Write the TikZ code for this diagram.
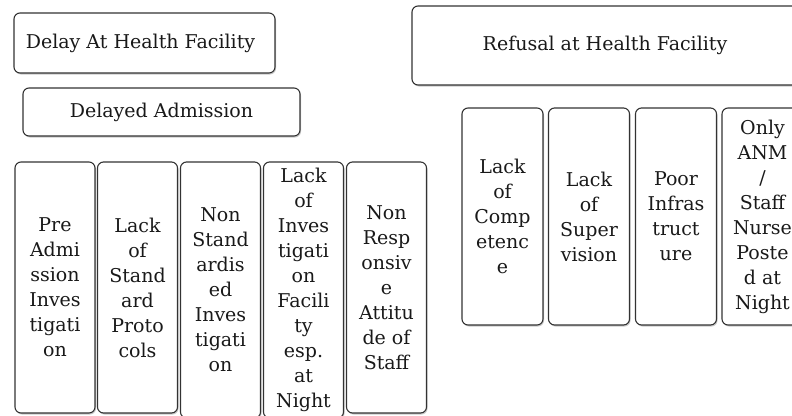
\documentclass[tikz,border=0pt]{standalone}
\usepackage{fontspec}
\setmainfont{DejaVu Serif}
\usetikzlibrary{shadows}
\tikzset{
  causebox/.style={draw=black!80, line width=1.1pt, rounded corners=6pt, fill=white,
    drop shadow={shadow xshift=1pt, shadow yshift=-1.5pt, opacity=0.35, fill=black!60},
    align=center, text=black!90, inner sep=0pt, font=\fontsize{19}{25}\selectfont},
  colbox/.style={causebox, minimum width=80pt, minimum height=251pt},
  rcolbox/.style={causebox, minimum width=81pt, minimum height=217pt}
}
\begin{document}
\begin{tikzpicture}[x=1pt, y=-1pt]
  \useasboundingbox (0,0) rectangle (792,415);
  \clip (0,0) rectangle (792,415);

  % Delay part
  \node[causebox, minimum width=261pt, minimum height=60pt] (delay) at (144.5,43) {Delay At Health Facility\hspace*{8pt}};
  \node[causebox, minimum width=277pt, minimum height=48pt] (admit) at (161.5,112) {Delayed Admission};

  \node[colbox] (c1) at (55,287.5) {Pre\\Admi\\ssion\\Inves\\tigati\\on};
  \node[colbox] (c2) at (137.5,287.5) {Lack\\of\\Stand\\ard\\Proto\\cols};
  \node[colbox, minimum height=256pt] (c3) at (220.5,290) {Non\\Stand\\ardis\\ed\\Inves\\tigati\\on};
  \node[colbox, minimum height=256pt] (c4) at (303.5,290) {Lack\\of\\Inves\\tigati\\on\\Facili\\ty\\esp.\\at\\Night};
  \node[colbox] (c5) at (386.5,287.5) {Non\\Resp\\onsiv\\e\\Attitu\\de of\\Staff};

  % Refusal part
  \node[causebox, minimum width=386pt, minimum height=79pt] (refusal) at (605,45.5) {Refusal at Health Facility};

  \node[rcolbox] (r1) at (502.5,216.5) {Lack\\of\\Comp\\etenc\\e};
  \node[rcolbox] (r2) at (589,216.5) {Lack\\of\\Super\\vision};
  \node[rcolbox] (r3) at (676,216.5) {Poor\\Infras\\truct\\ure};
  \node[rcolbox] (r4) at (762.5,216.5) {Only\\ANM\\/\\Staff\\Nurse\\Poste\\d at\\Night};
\end{tikzpicture}
\end{document}
